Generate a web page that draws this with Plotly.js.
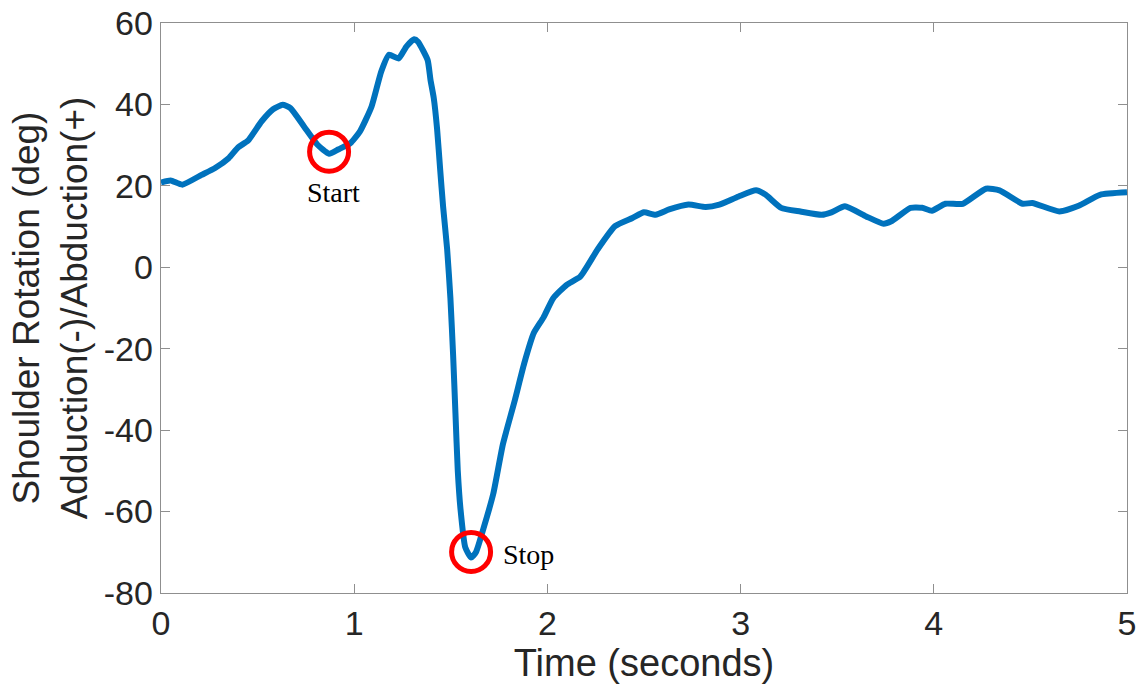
<!DOCTYPE html>
<html>
<head>
<meta charset="utf-8">
<script src="https://cdn.plot.ly/plotly-3.0.1.min.js"></script>
<style>
  html, body { margin: 0; padding: 0; background: #fff; }
  #chart { width: 1139px; height: 696px; }
</style>
</head>
<body>
<div id="chart"></div>
<script>
// Shoulder rotation over time (seconds vs degrees)
const timeSec = [0, 0.05, 0.11, 0.21, 0.28, 0.35, 0.40, 0.45, 0.52, 0.58, 0.63, 0.67,
  0.74, 0.81, 0.87, 0.92, 0.98, 1.03, 1.09, 1.14, 1.18, 1.23, 1.27, 1.31, 1.33,
  1.38, 1.395, 1.412, 1.429, 1.445, 1.46, 1.481, 1.498, 1.512, 1.524, 1.536, 1.55,
  1.575, 1.605, 1.63, 1.67, 1.72, 1.77, 1.83, 1.88, 1.93, 1.98, 2.03, 2.10, 2.17,
  2.26, 2.35, 2.44, 2.50, 2.56, 2.63, 2.73, 2.82, 2.89, 2.99, 3.08, 3.13, 3.21,
  3.31, 3.42, 3.47, 3.54, 3.65, 3.74, 3.78, 3.88, 3.94, 3.99, 4.06, 4.15, 4.27,
  4.34, 4.46, 4.51, 4.65, 4.75, 4.86, 5.0];
const rotationDeg = [20.8, 21.3, 20.3, 22.7, 24.4, 26.8, 29.5, 31.1, 35.8, 38.8, 39.9, 39.1,
  34.6, 30.1, 27.9, 29.0, 30.5, 33.4, 39.5, 48.1, 52.2, 51.3, 54.2, 56.0, 55.4,
  50.9, 46.0, 41.5, 34.0, 24.0, 15.0, 4.5, -7.6, -21.6, -35.8, -49.9, -59.3,
  -68.8, -71.3, -70.0, -64.0, -55.6, -43.4, -32.9, -23.6, -16.1, -12.3, -7.6, -4.3, -2.3,
  4.4, 10.1, 12.1, 13.5, 12.9, 14.2, 15.4, 14.8, 15.4, 17.4, 18.9, 17.8, 14.6,
  13.7, 12.9, 13.5, 15.0, 12.5, 10.7, 11.3, 14.6, 14.6, 13.9, 15.6, 15.6, 19.3,
  18.9, 15.6, 15.8, 13.7, 15.1, 17.8, 18.4];

// Event markers
const eventTime = [0.87, 1.605];
const eventDeg = [28.4, -69.9];
const eventLabels = ['Start', 'Stop'];

const xTickVals = [0, 1, 2, 3, 4, 5];
const yTickVals = [-80, -60, -40, -20, 0, 20, 40, 60];

const axisGrey = '#8f8f8f';
const textDark = '#262626';

const traces = [
  {
    x: timeSec, y: rotationDeg, type: 'scatter', mode: 'lines',
    line: { color: '#0072BD', width: 6, shape: 'spline', smoothing: 0.5 },
    hoverinfo: 'x+y'
  },
  {
    x: eventTime, y: eventDeg, type: 'scatter', mode: 'markers',
    marker: { symbol: 'circle-open', size: 39, color: '#ff0000', line: { color: '#ff0000', width: 5 } },
    hoverinfo: 'x+y'
  }
];

const labelFont = { family: 'Liberation Serif, Times New Roman, serif', size: 28, color: '#000' };
const annotations = [
  { x: eventTime[0], y: eventDeg[0], text: eventLabels[0], showarrow: false,
    xanchor: 'center', yanchor: 'middle', xshift: 4, yshift: -41, font: labelFont },
  { x: eventTime[1], y: eventDeg[1], text: eventLabels[1], showarrow: false,
    xanchor: 'left', yanchor: 'middle', xshift: 30, yshift: -3, font: labelFont }
];

const tickFont = { family: 'Liberation Sans, Arial, sans-serif', size: 34, color: textDark };
const titleFont = { family: 'Liberation Sans, Arial, sans-serif', size: 37, color: textDark };

const layout = {
  width: 1139, height: 696,
  margin: { l: 161, r: 12, t: 23, b: 103 },
  paper_bgcolor: '#fff', plot_bgcolor: '#fff',
  showlegend: false,
  xaxis: {
    range: [0, 5], tickvals: xTickVals, ticktext: xTickVals.map(String),
    ticks: 'inside', ticklen: 9, tickwidth: 1.2, tickcolor: axisGrey,
    showline: true, linecolor: axisGrey, linewidth: 1.3, mirror: 'ticks',
    showgrid: false, zeroline: false, tickfont: tickFont,
    title: { text: 'Time (seconds)', font: { ...titleFont, size: 38 }, standoff: 0 }
  },
  yaxis: {
    range: [-80, 60], tickvals: yTickVals, ticktext: yTickVals.map(String),
    ticks: 'inside', ticklen: 9, tickwidth: 1.2, tickcolor: axisGrey,
    showline: true, linecolor: axisGrey, linewidth: 1.3, mirror: 'ticks',
    showgrid: false, zeroline: false, tickfont: tickFont,
    title: { text: 'Shoulder Rotation (deg)<br>Adduction(-)/Abduction(+)', font: titleFont, standoff: 4 }
  },
  annotations: annotations
};

Plotly.newPlot('chart', traces, layout, { displayModeBar: false, staticPlot: true });
</script>
</body>
</html>
